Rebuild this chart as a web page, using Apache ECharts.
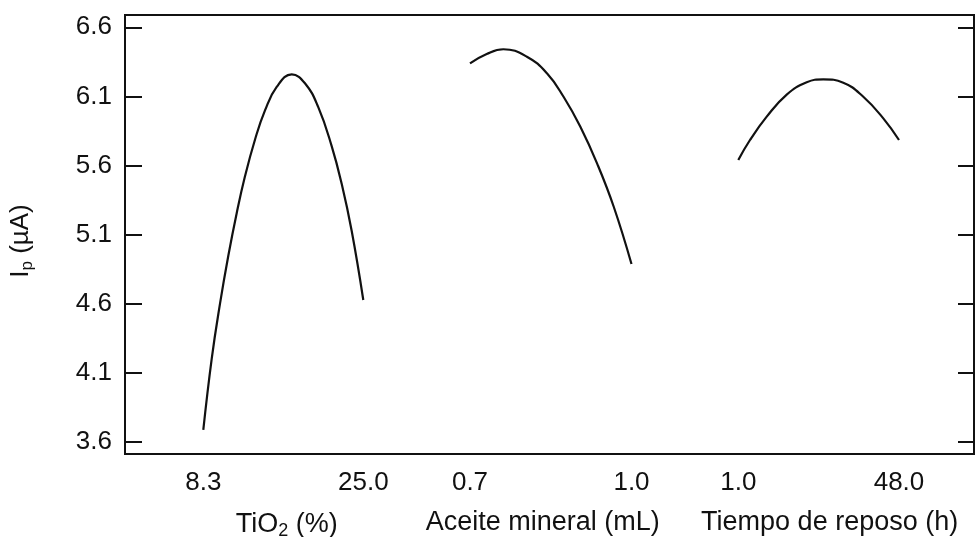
<!DOCTYPE html>
<html>
<head>
<meta charset="utf-8">
<script src="https://cdn.jsdelivr.net/npm/echarts@6/dist/echarts.min.js"></script>
<style>html,body{margin:0;padding:0;background:#fff}#c{width:975px;height:537px}</style>
</head>
<body>
<div id="c"></div>
<script>
// Y axis (Ip, µA)
const yTicks = [3.6, 4.1, 4.6, 5.1, 5.6, 6.1, 6.6];
const yMin = 3.511, yMax = 6.689;

// TiO2 (%)
const tioLevels = [8.3, 25.0];
const tioX = [8.3, 9.18, 10.04, 10.91, 11.79, 12.65, 13.70, 14.74, 15.96, 17.53, 18.91, 20.30, 21.70, 22.75, 23.79, 25.0];
const tioY = [3.685, 4.202, 4.598, 4.946, 5.256, 5.521, 5.788, 5.998, 6.168, 6.259, 6.195, 6.022, 5.740, 5.465, 5.125, 4.626];

// Aceite mineral (mL)
const oilLevels = [0.7, 1.0];
const oilX = [0.7, 0.731, 0.762, 0.8057, 0.8429, 0.8738, 0.905, 0.936, 0.967, 1.0];
const oilY = [6.339, 6.407, 6.441, 6.387, 6.267, 6.097, 5.880, 5.615, 5.301, 4.886];

// Tiempo de reposo (h)
const timeLevels = [1.0, 48.0];
const timeX = [1, 4.42, 9.31, 15.16, 21.0, 25.86, 31.71, 37.56, 43.41, 48];
const timeY = [5.639, 5.784, 5.953, 6.113, 6.202, 6.223, 6.199, 6.097, 5.941, 5.784];

const FONT = 'Liberation Sans, Arial, Helvetica, sans-serif';
const INK = '#111';
const TOP = 15, BOTTOM = 83;

function zip(xs, ys) { return xs.map((x, i) => [x, ys[i]]); }

const panels = [
  { left: 203.3, right: 611.7, levels: tioLevels, xs: tioX, ys: tioY,
    name: 'TiO{sub|2} (%)', pad: [0, 0, 0, 7] },
  { left: 470, right: 343.5, levels: oilLevels, xs: oilX, ys: oilY,
    name: 'Aceite mineral (mL)', pad: [0, 16, 0, 0] },
  { left: 738.3, right: 76, levels: timeLevels, xs: timeX, ys: timeY,
    name: 'Tiempo de reposo (h)', pad: [0, 0, 0, 22] }
];

const grids = [{ left: 125, right: 1, top: TOP, bottom: BOTTOM, show: true, outerBoundsMode: 'none',
  containLabel: false, borderColor: INK, borderWidth: 2, backgroundColor: 'transparent' }];
const xAxes = [{ gridIndex: 0, type: 'value', min: 0, max: 1, show: false }];
const yAxes = [
  { gridIndex: 0, type: 'value', position: 'left', min: yMin, max: yMax,
    axisLine: { show: true, lineStyle: { color: INK, width: 2 } },
    axisTick: { show: true, inside: true, length: 17, customValues: yTicks, lineStyle: { color: INK, width: 2 } },
    axisLabel: { show: true, customValues: yTicks, margin: 13, color: INK, fontSize: 26, fontFamily: FONT,
      formatter: v => v.toFixed(1) },
    splitLine: { show: false },
    name: '{a|I}{sub|p}{a| (µA)}', nameLocation: 'middle', nameGap: 89, nameRotate: 90,
    nameTextStyle: { padding: [0, 13, 0, 0], rich: {
      a: { fontSize: 26, fontFamily: FONT, color: INK },
      sub: { fontSize: 17, fontFamily: FONT, color: INK, padding: [13, 0, 0, 0] } } } },
  { gridIndex: 0, type: 'value', position: 'right', min: yMin, max: yMax,
    axisLine: { show: true, lineStyle: { color: INK, width: 2 } },
    axisTick: { show: true, inside: true, length: 16, customValues: yTicks, lineStyle: { color: INK, width: 2 } },
    axisLabel: { show: false }, splitLine: { show: false } }
];
const series = [];

panels.forEach((p, i) => {
  const gi = i + 1;
  grids.push({ left: p.left, right: p.right, top: TOP, bottom: BOTTOM, outerBoundsMode: 'none', containLabel: false });
  xAxes.push({ gridIndex: gi, type: 'value', min: p.levels[0], max: p.levels[1],
    axisLine: { show: false }, axisTick: { show: false }, splitLine: { show: false },
    axisLabel: { customValues: p.levels, margin: 16, color: INK, fontSize: 26, fontFamily: FONT,
      formatter: v => v.toFixed(1) },
    name: p.name, nameLocation: 'middle', nameGap: 55,
    nameTextStyle: { color: INK, fontSize: 27, fontFamily: FONT, padding: p.pad,
      rich: { sub: { fontSize: 18, fontFamily: FONT, color: INK, padding: [13, 0, 0, 0] } } } });
  yAxes.push({ gridIndex: gi, type: 'value', min: yMin, max: yMax, show: false });
  series.push({ type: 'line', xAxisIndex: gi, yAxisIndex: i + 2, data: zip(p.xs, p.ys),
    smooth: 0.45, showSymbol: false, symbol: 'none', clip: false,
    lineStyle: { color: INK, width: 2.2 } });
});

const chart = echarts.init(document.getElementById('c'), null, { renderer: 'canvas' });
chart.setOption({ animation: false, backgroundColor: '#fff', grid: grids, xAxis: xAxes, yAxis: yAxes, series: series });
</script>
</body>
</html>
